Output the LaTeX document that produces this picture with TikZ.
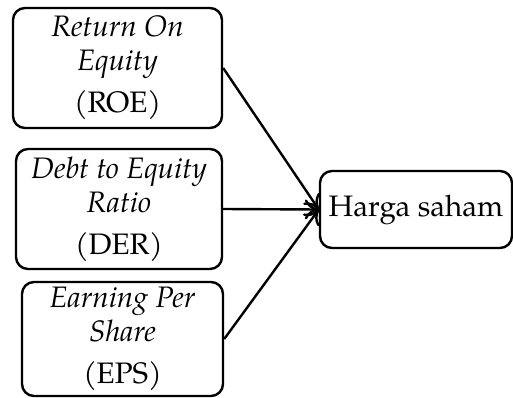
\documentclass[tikz,border=0pt]{standalone}
\usepackage{fontspec}
\setmainfont{TeX Gyre Pagella}
\usetikzlibrary{arrows.meta}
\tikzset{every node/.style={rectangle,draw,rounded corners=6pt,line width=1.2pt,align=center,inner sep=0pt,font=\fontsize{14.8}{17}\selectfont}}
\tikzset{v/.style={minimum height=60pt}}
\tikzset{a/.style={line width=1.2pt,-{To[length=7pt,width=10pt]}}}

\begin{document}
\begin{tikzpicture}[x=0.5pt,y=0.5pt]
        \useasboundingbox (0,0) rectangle (513,397);
      \node[v,minimum width=104.5pt] (roe) at (117.5,329) {\textit{Return On}\\\textit{Equity}\\[4pt](ROE)};
      \node[v,minimum width=103pt] (der) at (119,188) {\textit{Debt to Equity}\\\textit{Ratio}\\[4pt](DER)};
      \node[v,minimum width=100.5pt,minimum height=57pt] (eps) at (122.5,58) {\textit{Earning Per}\\\textit{Share}\\[4pt](EPS)};
      \node[minimum width=96pt,minimum height=38.5pt] (hs) at (416,187.5) {Harga saham};
      \draw[a] (roe.east) -- (hs.west);
      \draw[a] (der.east) -- (hs.west);
      \draw[a] (eps.east) -- (hs.west);
    \end{tikzpicture}
\end{document}
